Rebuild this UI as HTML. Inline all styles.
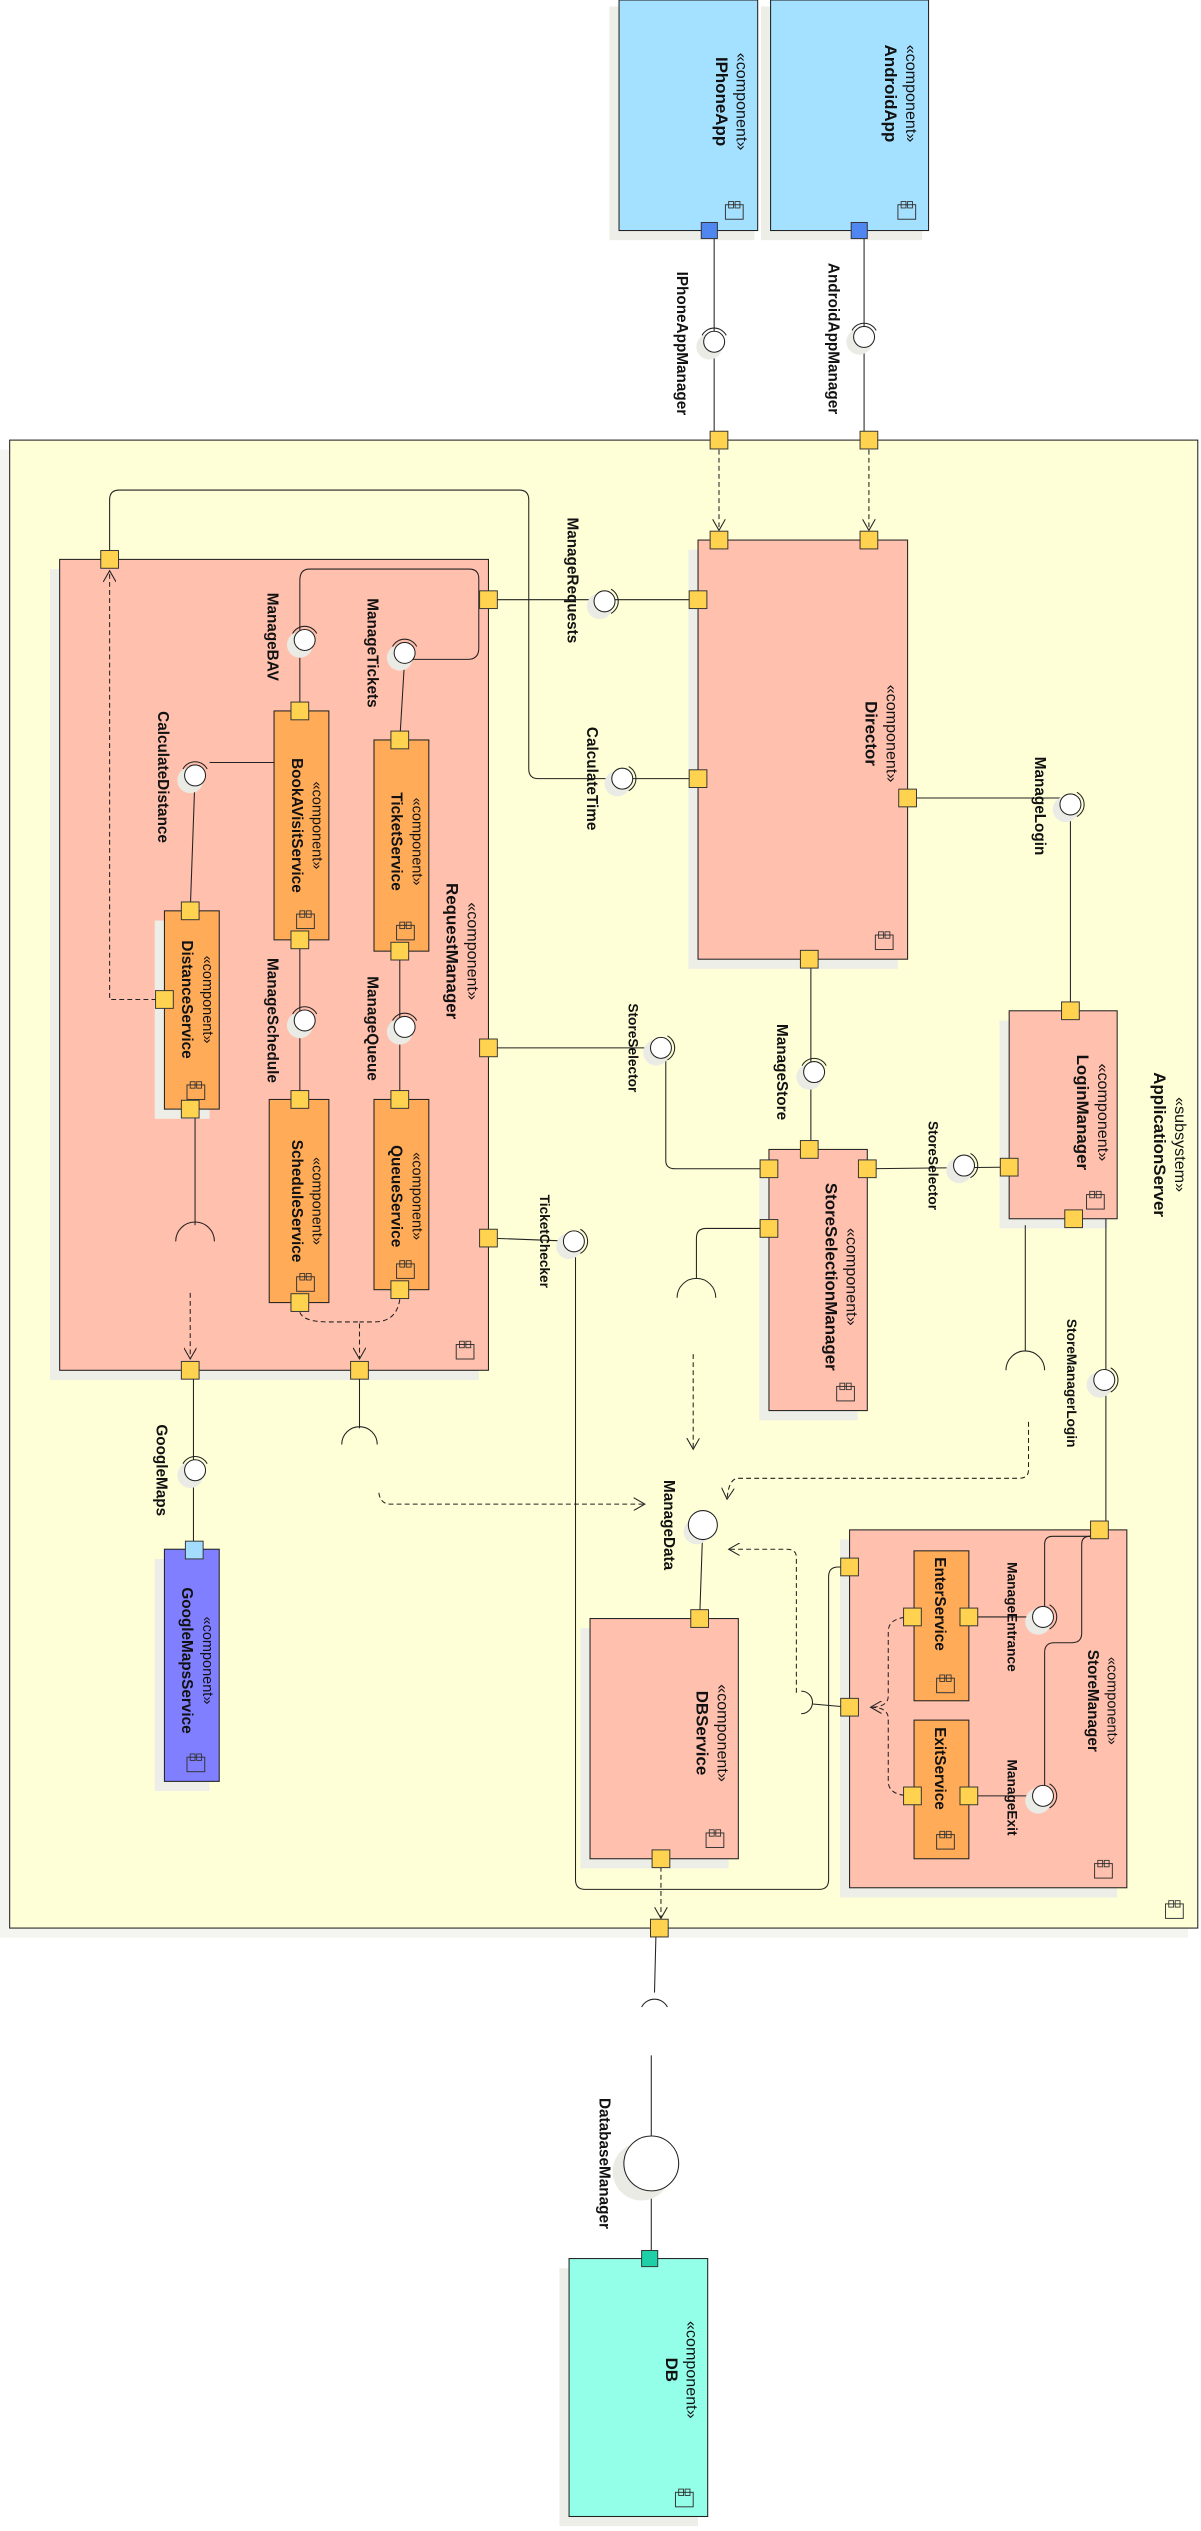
<!DOCTYPE html>
<html><head><meta charset="utf-8"><style>
html,body{margin:0;padding:0;background:#fff;}
svg{display:block;}
text{font-family:"Liberation Sans",sans-serif;fill:#111;}
.st{font-size:10px;}
.nm{font-size:10.5px;font-weight:bold;}
.sst{font-size:9px;}
.snm{font-size:9.5px;font-weight:bold;}
.lb{font-size:9.5px;font-weight:bold;}
.lbn{font-size:8.5px;}
.lbb{font-size:8.5px;font-weight:bold;}
.ln{stroke:#222;stroke-width:0.65;fill:none;}
.ds{stroke:#222;stroke-width:0.65;fill:none;stroke-dasharray:3,2;}
.comp{fill:#ffc0ae;stroke:#222;stroke-width:0.65;}
.or{fill:#ffab57;stroke:#222;stroke-width:0.65;}
.sh{fill:#eeeee8;}
</style></head><body>
<svg width="1201" height="2531" viewBox="0 0 745 1570" preserveAspectRatio="none" xmlns="http://www.w3.org/2000/svg">
<defs>
<g id="p"><rect x="-5.5" y="-5.5" width="11" height="11" fill="#ffd34f" stroke="#333" stroke-width="0.6"/></g>
<g id="ic"><rect x="-6" y="-4" width="11" height="9" fill="none" stroke="#333" stroke-width="0.6"/><rect x="-4" y="-6" width="3" height="4" fill="none" stroke="#333" stroke-width="0.55"/><rect x="0" y="-6" width="3" height="4" fill="none" stroke="#333" stroke-width="0.55"/></g>
<g id="lol"><circle cx="-3" cy="3" r="8" fill="#ebebe5"/><circle cx="0" cy="0" r="6.5" fill="#fff" stroke="#222" stroke-width="0.65"/><path d="M -7.5 -4 A 8.5 8.5 0 0 1 7.5 -4" fill="none" stroke="#222" stroke-width="0.65"/></g>
<g id="lolr"><circle cx="-3" cy="3" r="8" fill="#ebebe5"/><circle cx="0" cy="0" r="6.5" fill="#fff" stroke="#222" stroke-width="0.65"/><path d="M 4 -7.5 A 8.5 8.5 0 0 1 4 7.5" fill="none" stroke="#222" stroke-width="0.65"/></g>
<marker id="ar" markerWidth="8" markerHeight="8" refX="7" refY="4" orient="auto" markerUnits="userSpaceOnUse"><path d="M0,0 L7,4 L0,8" fill="none" stroke="#222" stroke-width="0.65"/></marker>
</defs>

<rect x="378" y="4" width="90" height="145" class="sh"/>
<rect x="384" y="0" width="86" height="143" fill="#a4e0ff" stroke="#222" stroke-width="0.65"/>
<rect x="472" y="4" width="100" height="145" class="sh"/>
<rect x="478" y="0" width="98" height="143" fill="#a4e0ff" stroke="#222" stroke-width="0.65"/>
<text class="st" transform="translate(457,63) rotate(90)" text-anchor="middle">«component»</text>
<text class="nm" transform="translate(444,63) rotate(90)" text-anchor="middle">IPhoneApp</text>
<text class="st" transform="translate(562,58) rotate(90)" text-anchor="middle">«component»</text>
<text class="nm" transform="translate(549,58) rotate(90)" text-anchor="middle">AndroidApp</text>
<use href="#ic" x="456" y="131"/><use href="#ic" x="563" y="131"/>
<line x1="443" y1="148" x2="443" y2="273" class="ln"/>
<line x1="536" y1="148" x2="536" y2="273" class="ln"/>
<rect x="435" y="138" width="10" height="10" fill="#4f86f0" stroke="#333" stroke-width="0.6"/>
<rect x="528" y="138" width="10" height="10" fill="#4f86f0" stroke="#333" stroke-width="0.6"/>
<use href="#lol" x="443" y="212"/><use href="#lol" x="536" y="209"/>
<text class="lb" transform="translate(420,213) rotate(90)" text-anchor="middle">IPhoneAppManager</text>
<text class="lb" transform="translate(514,210) rotate(90)" text-anchor="middle">AndroidAppManager</text>

<rect x="0" y="279" width="737" height="923" fill="#f4f4f0"/>
<rect x="6" y="273" width="737" height="923" fill="#ffffd7" stroke="#222" stroke-width="0.65"/>
<text class="st" transform="translate(729,710) rotate(90)" text-anchor="middle">«subsystem»</text>
<text class="nm" transform="translate(716,710) rotate(90)" text-anchor="middle">ApplicationServer</text>
<use href="#ic" x="729" y="1185"/>

<rect x="427" y="341" width="130" height="260" class="sh"/>
<rect x="433" y="335" width="130" height="260" class="comp"/>
<text class="st" transform="translate(550,455) rotate(90)" text-anchor="middle">«component»</text>
<text class="nm" transform="translate(537,455) rotate(90)" text-anchor="middle">Director</text>
<use href="#ic" x="549" y="584"/>

<rect x="31" y="353" width="266" height="503" class="sh"/>
<rect x="37" y="347" width="266" height="503" class="comp"/>
<text class="st" transform="translate(290,590) rotate(90)" text-anchor="middle">«component»</text>
<text class="nm" transform="translate(277,590) rotate(90)" text-anchor="middle">RequestManager</text>
<use href="#ic" x="289" y="838"/>

<rect x="170" y="441" width="34" height="142" class="or"/>
<text class="sst" transform="translate(194,512) rotate(90)" text-anchor="middle">«component»</text>
<text class="snm" transform="translate(181,512) rotate(90)" text-anchor="middle">BookAVisitService</text>
<use href="#ic" x="190" y="571"/>
<rect x="232" y="459" width="34" height="131" class="or"/>
<text class="sst" transform="translate(256,522) rotate(90)" text-anchor="middle">«component»</text>
<text class="snm" transform="translate(243,522) rotate(90)" text-anchor="middle">TicketService</text>
<use href="#ic" x="252" y="578"/>
<rect x="96" y="571" width="34" height="123" class="sh"/>
<rect x="102" y="565" width="34" height="123" class="or"/>
<text class="sst" transform="translate(126,620) rotate(90)" text-anchor="middle">«component»</text>
<text class="snm" transform="translate(113,620) rotate(90)" text-anchor="middle">DistanceService</text>
<use href="#ic" x="122" y="677"/>
<rect x="167" y="682" width="37" height="126" class="or"/>
<text class="sst" transform="translate(194,745) rotate(90)" text-anchor="middle">«component»</text>
<text class="snm" transform="translate(181,745) rotate(90)" text-anchor="middle">ScheduleService</text>
<use href="#ic" x="190" y="796"/>
<rect x="232" y="682" width="34" height="118" class="or"/>
<text class="sst" transform="translate(256,742) rotate(90)" text-anchor="middle">«component»</text>
<text class="snm" transform="translate(243,742) rotate(90)" text-anchor="middle">QueueService</text>
<use href="#ic" x="252" y="788"/>

<rect x="471" y="719" width="61" height="162" class="sh"/>
<rect x="477" y="713" width="61" height="162" class="comp"/>
<text class="st" transform="translate(525,792) rotate(90)" text-anchor="middle">«component»</text>
<text class="nm" transform="translate(512,792) rotate(90)" text-anchor="middle">StoreSelectionManager</text>
<use href="#ic" x="525" y="864"/>

<rect x="620" y="633" width="67" height="129" class="sh"/>
<rect x="626" y="627" width="67" height="129" class="comp"/>
<text class="st" transform="translate(681,690) rotate(90)" text-anchor="middle">«component»</text>
<text class="nm" transform="translate(668,690) rotate(90)" text-anchor="middle">LoginManager</text>
<use href="#ic" x="680" y="745"/>

<rect x="96" y="967" width="34" height="144" class="sh"/>
<rect x="102" y="961" width="34" height="144" fill="#7f7fff" stroke="#222" stroke-width="0.65"/>
<text class="sst" transform="translate(126,1030) rotate(90)" text-anchor="middle">«component»</text>
<text class="snm" transform="translate(113,1030) rotate(90)" text-anchor="middle">GoogleMapsService</text>
<use href="#ic" x="122" y="1094"/>

<rect x="360" y="1010" width="92" height="149" class="sh"/>
<rect x="366" y="1004" width="92" height="149" class="comp"/>
<text class="st" transform="translate(445,1075) rotate(90)" text-anchor="middle">«component»</text>
<text class="nm" transform="translate(432,1075) rotate(90)" text-anchor="middle">DBService</text>
<use href="#ic" x="444" y="1141"/>

<rect x="521" y="955" width="172" height="222" class="sh"/>
<rect x="527" y="949" width="172" height="222" class="comp"/>
<text class="sst" transform="translate(687,1055) rotate(90)" text-anchor="middle">«component»</text>
<text class="snm" transform="translate(675,1055) rotate(90)" text-anchor="middle">StoreManager</text>
<use href="#ic" x="685" y="1160"/>
<rect x="567" y="962" width="34" height="93" class="or"/>
<text class="snm" transform="translate(580,995) rotate(90)" text-anchor="middle">EnterService</text>
<use href="#ic" x="587" y="1045"/>
<rect x="567" y="1067" width="34" height="86" class="or"/>
<text class="snm" transform="translate(580,1097) rotate(90)" text-anchor="middle">ExitService</text>
<use href="#ic" x="587" y="1142"/>

<rect x="347" y="1407" width="86" height="160" class="sh"/>
<rect x="353" y="1401" width="86" height="160" fill="#93ffe8" stroke="#222" stroke-width="0.65"/>
<text class="st" transform="translate(426,1470) rotate(90)" text-anchor="middle">«component»</text>
<text class="nm" transform="translate(413,1470) rotate(90)" text-anchor="middle">DB</text>
<use href="#ic" x="425" y="1550"/>

<line x1="446" y1="279" x2="446" y2="329" class="ds" marker-end="url(#ar)"/>
<line x1="539" y1="279" x2="539" y2="329" class="ds" marker-end="url(#ar)"/>
<line x1="303" y1="372" x2="433" y2="372" class="ln"/>
<path d="M68 347 V310 Q68 304 74 304 H322 Q328 304 328 310 V477 Q328 483 334 483 H433" class="ln"/>
<path d="M102 620 H68 V354" class="ds" marker-end="url(#ar)"/>
<path d="M186 441 V360 Q186 353 192 353 H291 Q297 353 297 359 V402 Q297 409 290 409 H251" class="ln"/>
<line x1="251" y1="409" x2="248" y2="459" class="ln"/>
<line x1="121" y1="481" x2="118" y2="565" class="ln"/>
<line x1="130" y1="473" x2="170" y2="473" class="ln"/>
<line x1="186" y1="583" x2="186" y2="682" class="ln"/>
<line x1="248" y1="590" x2="248" y2="682" class="ln"/>
<line x1="121" y1="688" x2="121" y2="760" class="ln"/>
<path d="M109 770 A12 12 0 0 1 133 770" class="ln"/>
<path d="M186 814 Q188 820 204 820 H223 V843" class="ds" marker-end="url(#ar)"/>
<path d="M248 806 Q246 820 232 820 H223" class="ds"/>
<line x1="118" y1="802" x2="118" y2="843" class="ds" marker-end="url(#ar)"/>
<line x1="120" y1="850" x2="120" y2="961" class="ln"/>
<line x1="223" y1="850" x2="223" y2="886" class="ln"/>
<path d="M212 896 A11 11 0 0 1 234 896" class="ln"/>
<path d="M235 926 Q236 933 242 933 H400" class="ds" marker-end="url(#ar)"/>
<line x1="303" y1="650" x2="410" y2="650" class="ln"/>
<path d="M413 654 V720 Q413 725 419 725 H477" class="ln"/>
<line x1="303" y1="768" x2="356" y2="770" class="ln"/>
<path d="M357 776 V1166 Q357 1172 363 1172 H508 Q514 1172 514 1166 V978 Q514 972 520 972 H527" class="ln"/>
<path d="M563 495 H664 V627" class="ln"/>
<line x1="503" y1="595" x2="503" y2="713" class="ln"/>
<line x1="538" y1="725" x2="626" y2="724" class="ln"/>
<path d="M477 762 H438 Q432 762 432 768 V793" class="ln"/>
<path d="M420 805 A12 12 0 0 1 444 805" class="ln"/>
<line x1="430" y1="840" x2="430" y2="899" class="ds" marker-end="url(#ar)"/>
<line x1="636" y1="760" x2="636" y2="838" class="ln"/>
<path d="M624 850 A12 12 0 0 1 648 850" class="ln"/>
<line x1="686" y1="756" x2="686" y2="949" class="ln"/>
<path d="M638 882 V912 Q638 917 632 917 H458 Q452 917 451 930" class="ds" marker-end="url(#ar)"/>
<line x1="436" y1="946" x2="434" y2="1004" class="ln"/>
<path d="M494 1050 V966 Q494 961 488 961 H452" class="ds" marker-end="url(#ar)"/>
<path d="M497 1049 A7 7 0 0 1 497 1063" class="ln"/>
<line x1="504" y1="1057" x2="527" y2="1059" class="ln"/>
<path d="M566 1003 Q551 1003 551 1012 V1052 Q551 1059 540 1059" class="ds" marker-end="url(#ar)"/>
<path d="M566 1114 Q551 1114 551 1105 V1066 Q551 1059 540 1059" class="ds"/>
<line x1="601" y1="1003" x2="647" y2="1003" class="ln"/>
<line x1="601" y1="1114" x2="647" y2="1114" class="ln"/>
<path d="M682 953 H653 Q648 953 648 958 V997" class="ln"/>
<path d="M682 953 H676 Q671 953 671 958 V1013 Q671 1019 665 1019 H654 Q648 1019 648 1025 V1108" class="ln"/>
<line x1="410" y1="1153" x2="410" y2="1190" class="ds" marker-end="url(#ar)"/>
<line x1="407" y1="1196" x2="406" y2="1236" class="ln"/>
<path d="M398 1245 A9 9 0 0 1 414 1245" class="ln"/>
<line x1="404" y1="1275" x2="404" y2="1401" class="ln"/>
<circle cx="398" cy="1347" r="18" fill="#ebebe5"/>
<circle cx="404" cy="1342" r="17" fill="#fff" stroke="#222" stroke-width="0.65"/>
<rect x="398" y="1396" width="10" height="10" fill="#1fcfa8" stroke="#333" stroke-width="0.6"/>

<use href="#lolr" x="375" y="373"/>
<use href="#lolr" x="386" y="483"/>
<use href="#lol" x="189" y="397"/>
<use href="#lol" x="251" y="405"/>
<use href="#lol" x="121" y="481"/>
<use href="#lol" x="189" y="633"/>
<use href="#lol" x="251" y="637"/>
<use href="#lolr" x="410" y="650"/>
<use href="#lolr" x="356" y="770"/>
<use href="#lolr" x="664" y="499"/>
<use href="#lol" x="505" y="665"/>
<use href="#lolr" x="598" y="723"/>
<use href="#lolr" x="685" y="856"/>
<use href="#lol" x="121" y="912"/>
<circle cx="432" cy="950" r="8" fill="#ebebe5"/><circle cx="436" cy="946" r="9" fill="#fff" stroke="#222" stroke-width="0.65"/>
<use href="#lolr" x="647" y="1003"/>
<use href="#lolr" x="647" y="1114"/>

<use href="#p" x="446" y="273"/><use href="#p" x="539" y="273"/>
<use href="#p" x="446" y="335"/><use href="#p" x="539" y="335"/>
<use href="#p" x="433" y="372"/><use href="#p" x="433" y="483"/>
<use href="#p" x="563" y="495"/><use href="#p" x="502" y="595"/>
<use href="#p" x="68" y="347"/><use href="#p" x="303" y="372"/>
<use href="#p" x="303" y="650"/><use href="#p" x="303" y="768"/>
<use href="#p" x="118" y="850"/><use href="#p" x="223" y="850"/>
<use href="#p" x="186" y="441"/><use href="#p" x="186" y="583"/>
<use href="#p" x="248" y="459"/><use href="#p" x="248" y="590"/>
<use href="#p" x="118" y="565"/><use href="#p" x="102" y="620"/><use href="#p" x="118" y="688"/>
<use href="#p" x="186" y="682"/><use href="#p" x="186" y="808"/>
<use href="#p" x="248" y="682"/><use href="#p" x="248" y="800"/>
<use href="#p" x="477" y="725"/><use href="#p" x="502" y="713"/>
<use href="#p" x="538" y="725"/><use href="#p" x="477" y="762"/>
<use href="#p" x="664" y="627"/><use href="#p" x="626" y="724"/><use href="#p" x="666" y="756"/>
<use href="#p" x="434" y="1004"/><use href="#p" x="410" y="1153"/>
<use href="#p" x="682" y="949"/><use href="#p" x="527" y="972"/><use href="#p" x="527" y="1059"/>
<use href="#p" x="566" y="1003"/><use href="#p" x="601" y="1003"/>
<use href="#p" x="566" y="1114"/><use href="#p" x="601" y="1114"/>
<use href="#p" x="409" y="1196"/>
<rect x="115" y="956" width="11" height="11" fill="#a4dcff" stroke="#333" stroke-width="0.6"/>

<text class="lb" transform="translate(352,360) rotate(90)" text-anchor="middle">ManageRequests</text>
<text class="lb" transform="translate(364,483) rotate(90)" text-anchor="middle">CalculateTime</text>
<text class="lb" transform="translate(166,395) rotate(90)" text-anchor="middle">ManageBAV</text>
<text class="lb" transform="translate(228,405) rotate(90)" text-anchor="middle">ManageTickets</text>
<text class="lb" transform="translate(98,482) rotate(90)" text-anchor="middle">CalculateDistance</text>
<text class="lb" transform="translate(166,633) rotate(90)" text-anchor="middle">ManageSchedule</text>
<text class="lb" transform="translate(228,638) rotate(90)" text-anchor="middle">ManageQueue</text>
<text class="lb" transform="translate(642,500) rotate(90)" text-anchor="middle">ManageLogin</text>
<text class="lb" transform="translate(482,665) rotate(90)" text-anchor="middle">ManageStore</text>
<text class="lbb" transform="translate(390,650) rotate(90)" text-anchor="middle">StoreSelector</text>
<text class="lbb" transform="translate(335,770) rotate(90)" text-anchor="middle">TicketChecker</text>
<text class="lbb" transform="translate(576,723) rotate(90)" text-anchor="middle">StoreSelector</text>
<text class="lbb" transform="translate(662,858) rotate(90)" text-anchor="middle">StoreManagerLogin</text>
<text class="lb" transform="translate(97,912) rotate(90)" text-anchor="middle">GoogleMaps</text>
<text class="lb" transform="translate(412,946) rotate(90)" text-anchor="middle">ManageData</text>
<text class="lbb" transform="translate(625,1003) rotate(90)" text-anchor="middle">ManageEntrance</text>
<text class="lbb" transform="translate(625,1115) rotate(90)" text-anchor="middle">ManageExit</text>
<text class="lb" transform="translate(372,1342) rotate(90)" text-anchor="middle">DatabaseManager</text>
</svg>
</body></html>
